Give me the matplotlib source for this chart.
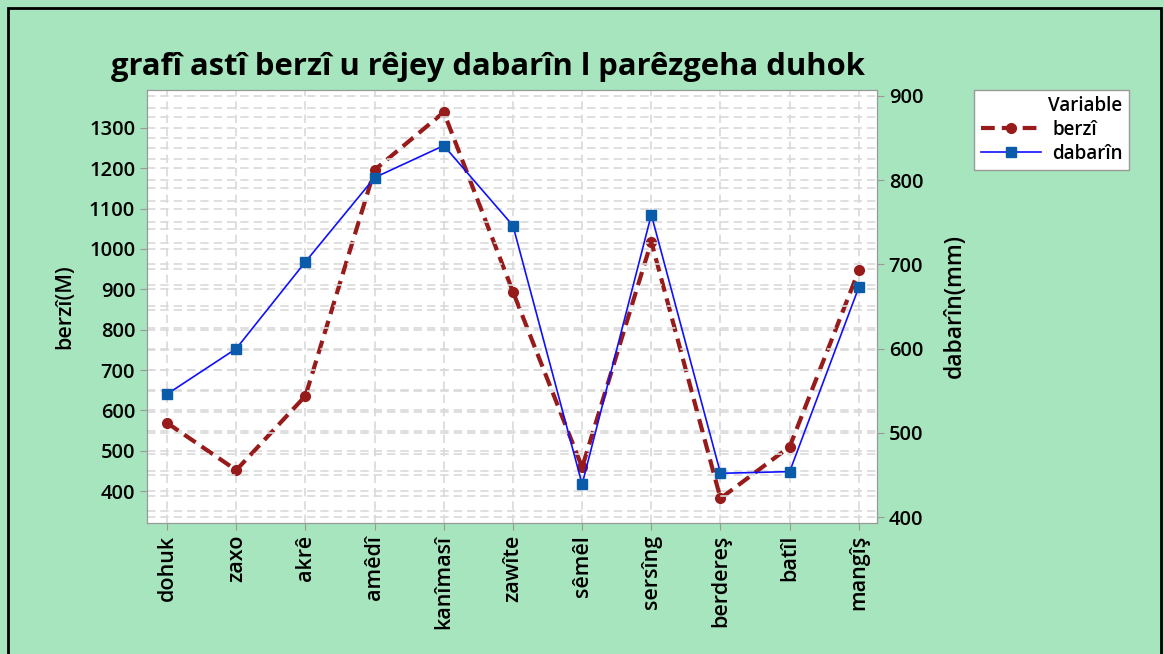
import matplotlib
matplotlib.use('Agg')
from matplotlib import pyplot as plt
from matplotlib.patches import Rectangle
from matplotlib.ticker import MultipleLocator


places = ['dohuk', 'zaxo', 'akrê', 'amêdî', 'kanîmasî', 'zawîte',
          'sêmêl', 'sersîng', 'berdereş', 'batîl', 'mangîş']
berzi = [569, 452, 636, 1196, 1339, 894, 459, 1018, 382, 510, 947]
dabarin = [546, 600, 703, 803, 841, 746, 439, 759, 452, 454, 673]

BG = '#a6e5bd'
GRID = '#d9d9d9'

plt.rcParams['font.family'] = ['Open Sans', 'DejaVu Sans']

fig = plt.figure(figsize=(11.64, 6.54), dpi=100, facecolor=BG)
fig.patches.append(Rectangle((0.007, -0.01), 0.99, 0.998, transform=fig.transFigure,
                             fill=False, edgecolor='black', linewidth=2))

ax = fig.add_axes([0.1263, 0.2003, 0.627, 0.6621])
ax2 = ax.twinx()

x = list(range(len(places)))

# grid lines for both axes
ax.set_ylim(321, 1394)
ax2.set_ylim(393, 907)
ax.yaxis.set_major_locator(MultipleLocator(100))
ax2.yaxis.set_major_locator(MultipleLocator(100))
for yv in range(350, 1400, 50):
    ax.axhline(yv, color=GRID, linestyle=(0, (5, 3)), linewidth=1.2, zorder=0)
for yv in range(400, 901, 25):
    ax2.axhline(yv, color=GRID, linestyle=(0, (5, 3)), linewidth=1.2, zorder=0)
for xv in x:
    ax.axvline(xv, color=GRID, linestyle=(0, (5, 3)), linewidth=1.2, zorder=0)

l1, = ax.plot(x, berzi, color='#981b1b', linestyle=(0, (3.3, 1.7)), linewidth=3,
              marker='o', markersize=7, label='berzî', zorder=3)
l2, = ax2.plot(x, dabarin, color='#1010ff', linewidth=1.2, marker='s',
               markersize=7, markerfacecolor='#0a5cab', markeredgecolor='#0a5cab',
               label='dabarîn', zorder=3)

ax.set_xlim(-0.29, 10.26)
ax.set_xticks(x)
ax.set_xticklabels(places, rotation=90, fontsize=15.5, fontweight='semibold')
for a in (ax, ax2):
    a.tick_params(axis='y', labelsize=14.5)
    a.tick_params(color='#999999', length=5)
    for lab in a.get_yticklabels():
        lab.set_fontweight('semibold')
    for s in a.spines.values():
        s.set_color('#999999')

ax.set_ylabel('berzî(M)', fontsize=15.5, labelpad=10, fontweight='semibold')
ax2.set_ylabel('dabarîn(mm)', fontsize=16.5, labelpad=14, fontweight='semibold')
fig.text(0.419, 0.897, 'grafî astî berzî u rêjey dabarîn l parêzgeha duhok',
         fontsize=22.3, fontweight='bold', ha='center', va='center')

leg = fig.legend(handles=[l1, l2], title='Variable', loc='upper left',
                 bbox_to_anchor=(0.837, 0.863),
                 prop={'size': 13.5, 'weight': 'semibold'},
                 title_fontproperties={'size': 13.5, 'weight': 'semibold'},
                 frameon=True, fancybox=False, edgecolor='#999999', framealpha=1,
                 handlelength=3.2, borderpad=0.35, labelspacing=0.2,
                 handletextpad=0.6, borderaxespad=0)
leg._legend_box.align = 'right'

fig.savefig('out.png', dpi=100, facecolor=BG)
